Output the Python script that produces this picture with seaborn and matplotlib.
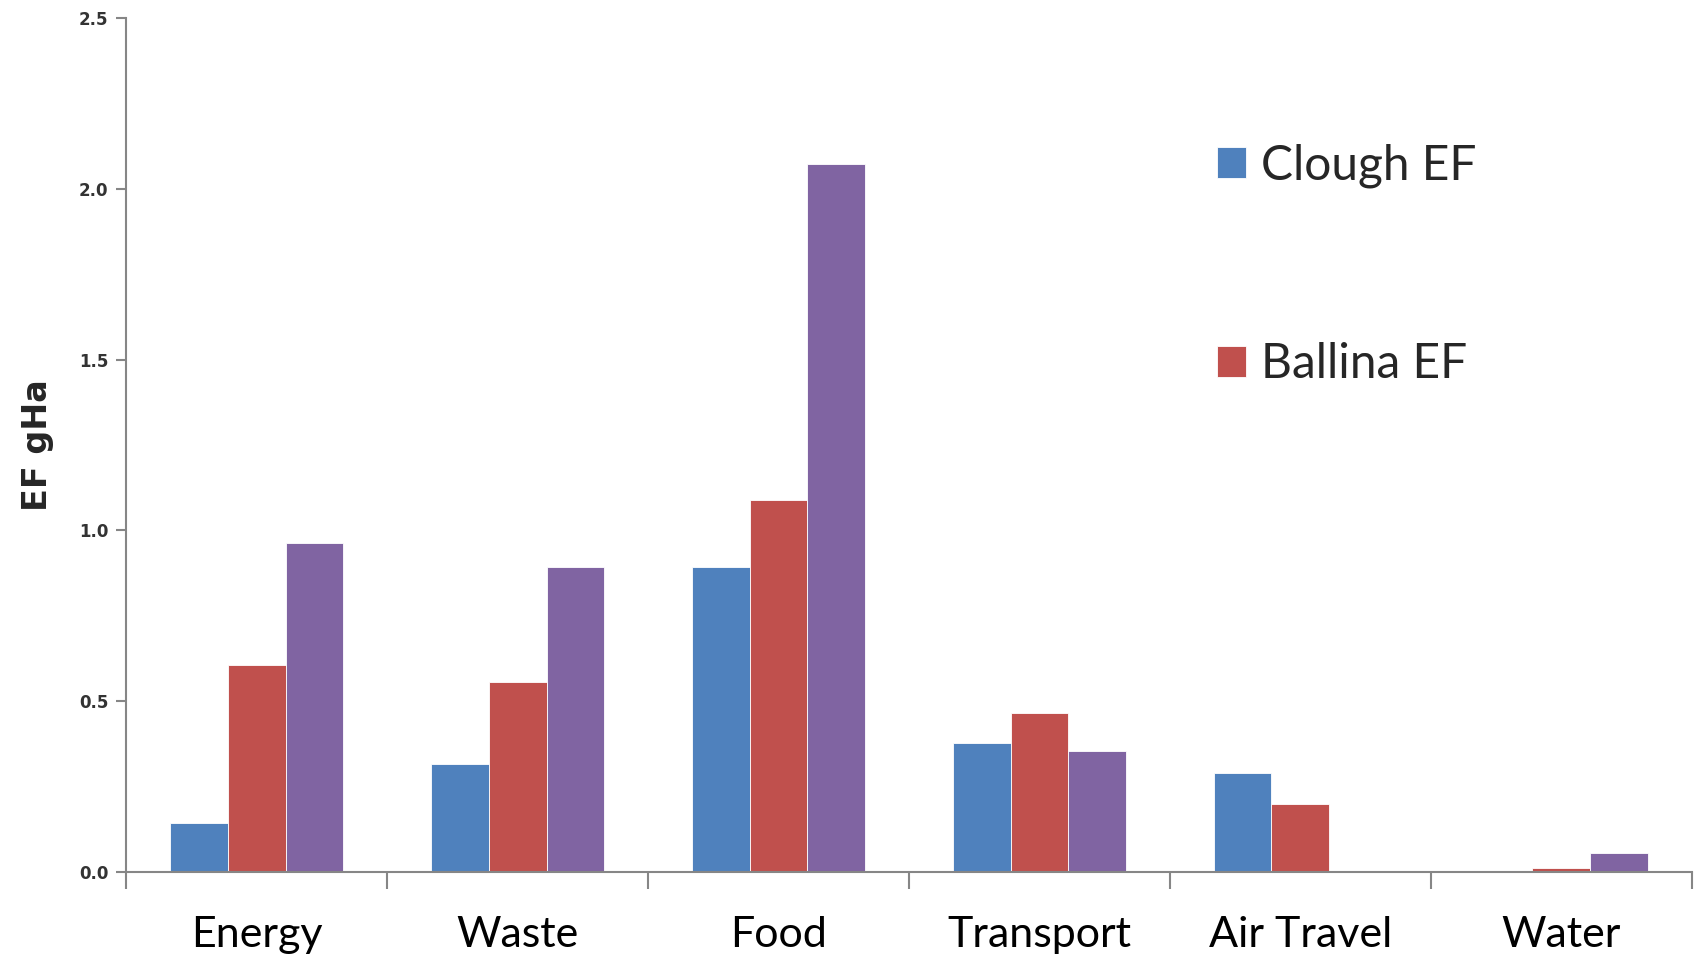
import numpy as np
import pandas as pd
import matplotlib
matplotlib.use("Agg")
import matplotlib.pyplot as plt
import seaborn as sns
from matplotlib.ticker import FixedLocator, FormatStrFormatter

categories = ["Energy", "Waste", "Food", "Transport", "Air Travel", "Water"]
series_names = ["Clough EF", "Ballina EF", "EF 3"]
clough_ef = [0.143, 0.315, 0.892, 0.377, 0.290, 0.003]
ballina_ef = [0.605, 0.557, 1.089, 0.465, 0.199, 0.011]
third_ef = [0.964, 0.892, 2.073, 0.354, 0.0, 0.056]
colors = ["#4F81BD", "#C0504D", "#8064A2"]
y_ticks = [0.0, 0.5, 1.0, 1.5, 2.0, 2.5]

df = pd.DataFrame({
    "category": categories * 3,
    "series": [series_names[0]] * 6 + [series_names[1]] * 6 + [series_names[2]] * 6,
    "value": clough_ef + ballina_ef + third_ef,
})

sns.set_theme(style="white")
plt.rcParams["font.family"] = ["DejaVu Sans"]

fig = plt.figure(figsize=(16.95, 9.59), dpi=100)
ax = fig.add_axes([0.0746, 0.0907, 0.9234, 0.8903])

sns.barplot(data=df, x="category", y="value", hue="series", order=categories,
            hue_order=series_names, palette=colors, width=0.663, saturation=1,
            edgecolor="white", linewidth=0.6, ax=ax)

ax.set_ylim(0, 2.5)
ax.set_xlim(-0.5, len(categories) - 0.5)
ax.yaxis.set_major_locator(FixedLocator(y_ticks))
ax.yaxis.set_major_formatter(FormatStrFormatter("%.1f"))
ax.tick_params(axis="y", which="major", direction="out", length=7, width=1.5,
               color="#868686", labelsize=12, pad=6, left=True)
for lbl in ax.get_yticklabels():
    lbl.set_fontweight("bold")
    lbl.set_color("#333333")

# category labels at centres, boundary ticks between groups
ax.tick_params(axis="x", which="major", length=0, labelsize=31, pad=32)
ax.xaxis.set_minor_locator(FixedLocator(np.arange(-0.5, len(categories), 1.0)))
ax.tick_params(axis="x", which="minor", direction="out", length=12, width=1.5,
               color="#868686", bottom=True)
for lbl in ax.get_xticklabels():
    lbl.set_fontfamily("Lato")
    lbl.set_color("black")

ax.set_xlabel("")
ax.set_ylabel("EF gHa", fontsize=24, fontweight="bold", labelpad=18)

for side in ["top", "right"]:
    ax.spines[side].set_visible(False)
for side in ["left", "bottom"]:
    ax.spines[side].set_color("#868686")
    ax.spines[side].set_linewidth(1.5)

handles, labels = ax.get_legend_handles_labels()
ax.legend(handles[:2], labels[:2], loc="upper left", bbox_to_anchor=(0.669, 0.904),
          frameon=False, prop={"family": "Lato", "size": 34.5},
          handlelength=0.62, handleheight=0.62, handletextpad=0.3,
          labelspacing=3.22)

fig.savefig("out.png", dpi=100)
